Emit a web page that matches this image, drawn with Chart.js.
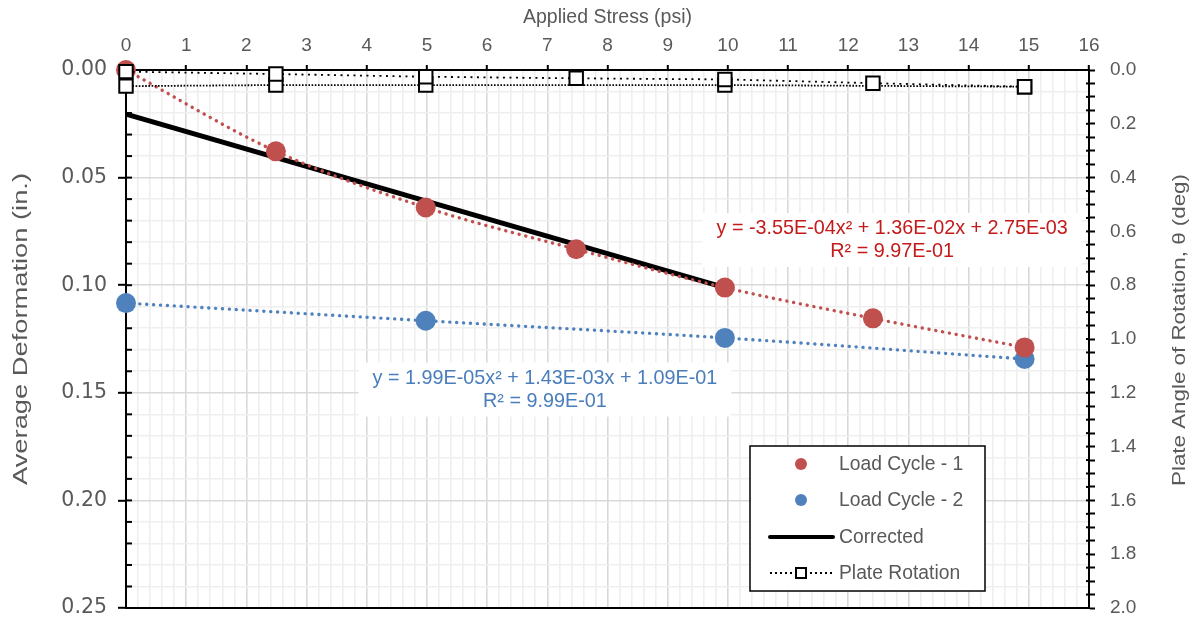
<!DOCTYPE html>
<html><head><meta charset="utf-8">
<script src="https://cdn.jsdelivr.net/npm/chart.js@4.4.1/dist/chart.umd.min.js"></script>
<style>html,body{margin:0;padding:0;background:#fff}#wrap{width:1197px;height:620px}</style>
</head><body><div id="wrap"><canvas id="c" width="1197" height="620"></canvas></div>
<script>
// ---- data ----
const stressCycle1 = [0, 2.49, 4.98, 7.48, 9.95, 12.41, 14.93];
const deformCycle1 = [0.0000, 0.0378, 0.0639, 0.0833, 0.1011, 0.1154, 0.1289];
const stressCycle2 = [0, 4.98, 9.95, 14.93];
const deformCycle2 = [0.1083, 0.1165, 0.1245, 0.1343];
const stressCorrected = [0, 9.95];
const deformCorrected = [0.0205, 0.1011];
const stressRotA = [0, 2.49, 4.98, 7.48, 9.95, 12.41, 14.93];
const rotationA = [0.006, 0.015, 0.025, 0.031, 0.035, 0.049, 0.062];
const stressRotB = [0, 2.49, 4.98, 9.95, 14.93];
const rotationB = [0.060, 0.056, 0.056, 0.056, 0.062];
const eqCycle1 = ['y = -3.55E-04x\u00B2 + 1.36E-02x + 2.75E-03', 'R\u00B2 = 9.97E-01'];
const eqCycle2 = ['y = 1.99E-05x\u00B2 + 1.43E-03x + 1.09E-01', 'R\u00B2 = 9.99E-01'];
const legendLabels = ['Load Cycle - 1', 'Load Cycle - 2', 'Corrected', 'Plate Rotation'];
const titleX = 'Applied Stress (psi)';
const titleY = 'Average Deformation (in.)';
const titleY2 = 'Plate Angle of Rotation, \u03B8 (deg)';

const RED = '#c0504d', BLUE = '#4f81bd', GREY = '#595959';
const FONT = "'Liberation Sans', Arial, sans-serif";
const WIDE = "'DejaVu Sans', Verdana, sans-serif";
Chart.defaults.font.family = FONT;

const pts = (xs, ys) => xs.map((x, i) => ({x, y: ys[i]}));
const near = (a) => Math.abs(a - Math.round(a)) < 1e-6;

function vText(ctx, text, cx, cy, size, length) {
  ctx.save();
  ctx.font = size + 'px ' + FONT;
  const w = ctx.measureText(text).width;
  ctx.translate(cx, cy);
  ctx.rotate(-Math.PI / 2);
  ctx.scale(length / w, 1);
  ctx.fillStyle = GREY; ctx.textAlign = 'center'; ctx.textBaseline = 'middle';
  ctx.fillText(text, 0, 0);
  ctx.restore();
}

const frame = {
  id: 'frame',
  beforeDatasetsDraw(chart) {
    const {ctx, chartArea: a} = chart;
    const x = chart.scales.x, y = chart.scales.y, y2 = chart.scales.y2;
    ctx.save();
    ctx.strokeStyle = '#000'; ctx.lineWidth = 2;
    ctx.beginPath(); ctx.moveTo(a.left - 1, a.bottom); ctx.lineTo(a.right + 1, a.bottom); ctx.stroke();
    // inner tick marks
    y.ticks.forEach(t => {
      const p = y.getPixelForValue(t.value);
      ctx.beginPath(); ctx.moveTo(a.left, p); ctx.lineTo(a.left + 6, p); ctx.stroke();
    });
    y2.ticks.forEach(t => {
      const p = y2.getPixelForValue(t.value);
      ctx.beginPath(); ctx.moveTo(a.right - 3, p); ctx.lineTo(a.right, p); ctx.stroke();
    });
    // equation labels
    const drawEq = (lines, xv, yv, color) => {
      ctx.font = '19.8px ' + FONT;
      const w = Math.max(...lines.map(l => ctx.measureText(l).width)) + 28;
      const cx = x.getPixelForValue(xv), cy = y.getPixelForValue(yv);
      ctx.fillStyle = '#fff';
      ctx.fillRect(cx - w / 2, cy - 27, w, 54);
      ctx.fillStyle = color; ctx.textAlign = 'center'; ctx.textBaseline = 'middle';
      ctx.fillText(lines[0], cx, cy - 11);
      ctx.fillText(lines[1], cx, cy + 12);
    };
    drawEq(eqCycle1, 12.73, 0.0790, '#c41a1a');
    drawEq(eqCycle2, 6.96, 0.1485, '#4a7ebb');
    ctx.restore();
    // vertical axis titles
    vText(ctx, titleY, 21, 329, 20.5, 312);
    vText(ctx, titleY2, 1180, 330, 19, 312);
  },
  afterDraw(chart) {
    const {ctx} = chart;
    ctx.save();
    const L = 750, T = 446, W = 235, H = 145;
    ctx.fillStyle = '#fff'; ctx.fillRect(L, T, W, H);
    ctx.strokeStyle = '#000'; ctx.lineWidth = 1.5; ctx.strokeRect(L, T, W, H);
    const rows = [464, 500, 537, 573];
    ctx.font = '19.3px ' + FONT; ctx.fillStyle = GREY; ctx.textAlign = 'left'; ctx.textBaseline = 'middle';
    legendLabels.forEach((t, i) => ctx.fillText(t, 839, rows[i] + 1));
    ctx.fillStyle = RED; ctx.beginPath(); ctx.arc(801, rows[0], 6, 0, Math.PI * 2); ctx.fill();
    ctx.fillStyle = BLUE; ctx.beginPath(); ctx.arc(801, rows[1], 6, 0, Math.PI * 2); ctx.fill();
    ctx.strokeStyle = '#000'; ctx.lineWidth = 4; ctx.lineCap = 'round';
    ctx.beginPath(); ctx.moveTo(770, rows[2]); ctx.lineTo(833, rows[2]); ctx.stroke();
    ctx.lineWidth = 1.8; ctx.lineCap = 'butt'; ctx.setLineDash([2, 3]);
    ctx.beginPath(); ctx.moveTo(770, rows[3]); ctx.lineTo(833, rows[3]); ctx.stroke();
    ctx.setLineDash([]);
    ctx.fillStyle = '#fff'; ctx.lineWidth = 2;
    ctx.fillRect(796, rows[3] - 5, 10, 10); ctx.strokeRect(796, rows[3] - 5, 10, 10);
    ctx.restore();
  }
};

new Chart(document.getElementById('c'), {
  type: 'scatter',
  data: {
    datasets: [
      {label: 'Plate Rotation', data: pts(stressRotA, rotationA), yAxisID: 'y2', showLine: true,
        borderColor: '#000', borderWidth: 1.8, borderDash: [2, 4.5], pointStyle: 'rect', pointRadius: 9.5,
        pointBackgroundColor: '#fff', pointBorderColor: '#000', pointBorderWidth: 2, clip: false},
      {label: 'Plate Rotation', data: pts(stressRotB, rotationB), yAxisID: 'y2', showLine: true,
        borderColor: '#000', borderWidth: 1.8, borderDash: [1.6, 1.6], pointStyle: 'rect', pointRadius: 9.5,
        pointBackgroundColor: '#fff', pointBorderColor: '#000', pointBorderWidth: 2, clip: false},
      {label: 'Load Cycle - 1', data: pts(stressCycle1, deformCycle1), yAxisID: 'y', showLine: true,
        borderColor: RED, borderWidth: 3.4, borderDash: [0.1, 6.8], borderCapStyle: 'round',
        cubicInterpolationMode: 'monotone', pointRadius: 10, pointBackgroundColor: RED, pointBorderWidth: 0, clip: false},
      {label: 'Load Cycle - 2', data: pts(stressCycle2, deformCycle2), yAxisID: 'y', showLine: true,
        borderColor: BLUE, borderWidth: 3.4, borderDash: [0.1, 6.8], borderCapStyle: 'round',
        cubicInterpolationMode: 'monotone', pointRadius: 10, pointBackgroundColor: BLUE, pointBorderWidth: 0, clip: false},
      {label: 'Corrected', data: pts(stressCorrected, deformCorrected), yAxisID: 'y', showLine: true,
        borderColor: '#000', borderWidth: 5, pointRadius: 0, clip: false}
    ]
  },
  options: {
    responsive: false, animation: false, events: [],
    layout: {padding: {top: 0, left: 0, right: 0, bottom: 12}},
    plugins: {legend: {display: false}, tooltip: {enabled: false}},
    scales: {
      x: {type: 'linear', position: 'top', min: 0, max: 16,
        ticks: {stepSize: 0.2, autoSkip: false, maxRotation: 0, color: GREY, font: {size: 19}, padding: 8,
          callback: v => near(v) ? String(Math.round(v)) : ''},
        grid: {color: c => near(c.tick.value) ? '#d9d9d9' : '#efefef', lineWidth: 1.6, tickLength: 5,
          tickColor: c => near(c.tick.value) ? '#000' : 'rgba(0,0,0,0)', tickWidth: 2},
        border: {color: '#000', width: 2},
        title: {display: true, text: titleX, color: GREY, font: {size: 19.5}, padding: {top: 6, bottom: 0}},
        afterFit: s => { s.height = 70; s.paddingLeft = 0; s.paddingRight = 0; }
      },
      y: {type: 'linear', position: 'left', reverse: true, min: 0, max: 0.25,
        ticks: {stepSize: 0.01, autoSkip: false, color: GREY, font: {size: 20.5, family: WIDE}, padding: 11,
          callback: v => near(v * 20) ? v.toFixed(2) : ''},
        grid: {color: c => near(c.tick.value * 20) ? '#d9d9d9' : '#efefef', lineWidth: 1.6, tickLength: 8,
          tickColor: c => near(c.tick.value * 20) ? '#000' : 'rgba(0,0,0,0)', tickWidth: 2},
        border: {color: '#000', width: 2},
        afterFit: s => { s.width = 126; s.paddingTop = 0; s.paddingBottom = 0; }
      },
      y2: {type: 'linear', position: 'right', reverse: true, min: 0, max: 2,
        ticks: {stepSize: 0.05, autoSkip: false, color: GREY, font: {size: 19}, padding: 15,
          callback: v => near(v * 5) ? v.toFixed(1) : ''},
        grid: {drawOnChartArea: false, tickLength: 6, tickColor: '#000', tickWidth: 2},
        border: {color: '#000', width: 2},
        afterFit: s => { s.width = 108; s.paddingTop = 0; s.paddingBottom = 0; }
      }
    }
  },
  plugins: [frame]
});
</script></body></html>
